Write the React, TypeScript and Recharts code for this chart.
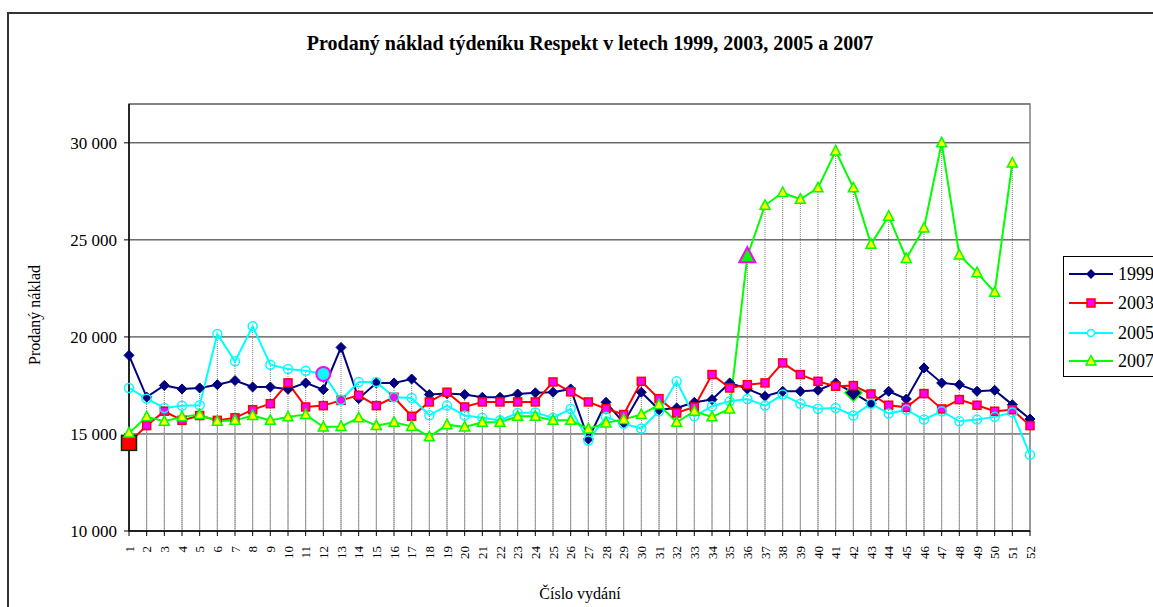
import React from "react";
import {
  LineChart,
  Line,
  XAxis,
  YAxis,
  CartesianGrid,
  ErrorBar,
  ReferenceArea,
} from "recharts";

const FONT = '"Liberation Serif", "Times New Roman", serif';

const issues = [
  1, 2, 3, 4, 5, 6, 7, 8, 9, 10, 11, 12, 13, 14, 15, 16, 17, 18, 19, 20, 21, 22, 23, 24, 25, 26,
  27, 28, 29, 30, 31, 32, 33, 34, 35, 36, 37, 38, 39, 40, 41, 42, 43, 44, 45, 46, 47, 48, 49, 50, 51, 52,
];

const y1999 = [
  19050, 16900, 17500, 17320, 17370, 17540, 17750, 17420, 17420, 17300, 17630, 17280, 19460,
  16820, 17630, 17630, 17830, 17030, 17080, 17030, 16890, 16890, 17060, 17120, 17150, 17320,
  14740, 16630, 15570, 17150, 16250, 16340, 16630, 16770, 17630, 17320, 16940, 17200, 17200,
  17250, 17630, 17120, 16560, 17200, 16800, 18400, 17630, 17540, 17200, 17250, 16510, 15770,
];

const y2003 = [
  14540, 15430, 16170, 15700, 15950, 15700, 15830, 16250, 16560, 17630, 16390, 16460, 16730,
  16990, 16460, 16890, 15910, 16650, 17150, 16390, 16650, 16650, 16650, 16650, 17680, 17170,
  16650, 16300, 16000, 17710, 16820, 16080, 16390, 18060, 17370, 17540, 17630, 18660, 18060,
  17710, 17460, 17490, 17060, 16480, 16370, 17080, 16290, 16770, 16480, 16170, 16250, 15430,
];

const y2005 = [
  17370, 16820, 16340, 16450, 16480, 20150, 18740, 20550, 18570, 18350, 18260, 18090, 16750,
  17680, 17680, 16890, 16850, 15960, 16460, 15950, 15830, 15700, 16080, 16110, 15830, 16290,
  14660, 15880, 15530, 15280, 16170, 17710, 15910, 16430, 16680, 16800, 16460, 17030, 16560,
  16300, 16340, 15950, 16560, 16050, 16250, 15740, 16170, 15650, 15740, 15880, 16110, 13930,
];

const y2007: (number | null)[] = [
  15050, 15880, 15650, 15880, 16000, 15650, 15700, 15950, 15700, 15880, 16000, 15360, 15390,
  15830, 15430, 15600, 15390, 14850, 15480, 15360, 15600, 15600, 15910, 15910, 15700, 15700,
  15260, 15570, 15750, 16000, 16510, 15600, 16170, 15880, 16290, 24160, 26780, 27440, 27090,
  27680, 29580, 27680, 24780, 26220, 24040, 25610, 30000, 24220, 23310, 22300, 28960, null,
];

const yTicks = [10000, 15000, 20000, 25000, 30000];
const yMin = 10000;
const yMax = 32000;

const data = issues.map((issue, i) => {
  const vals = [y1999[i], y2003[i], y2005[i], y2007[i]].filter(
    (v): v is number => v != null
  );
  return {
    issue,
    r1999: y1999[i],
    r2003: y2003[i],
    r2005: y2005[i],
    r2007: y2007[i],
    top: Math.max(...vals),
    low: Math.min(...vals),
  };
});

const fmt = (v: number) => String(v).replace(/\B(?=(\d{3})+(?!\d))/g, " ");

const diamondDot = (p: any) => {
  const { cx, cy, index } = p;
  if (cx == null || cy == null) return <g key={`a${index}`} />;
  const big = index === 41;
  const s = big ? 8.5 : 5;
  return (
    <path
      key={`a${index}`}
      d={`M${cx},${cy - s}L${cx + s},${cy}L${cx},${cy + s}L${cx - s},${cy}Z`}
      fill="#000080"
      stroke={big ? "#00ff00" : "#000080"}
      strokeWidth={big ? 1.5 : 1}
    />
  );
};

const squareDot = (p: any) => {
  const { cx, cy, index } = p;
  if (cx == null || cy == null) return <g key={`b${index}`} />;
  const big = index === 0;
  const h = big ? 7.5 : 4;
  return (
    <rect
      key={`b${index}`}
      x={cx - h}
      y={cy - h}
      width={h * 2}
      height={h * 2}
      fill={big ? "#ff0000" : "#ff00ff"}
      stroke={big ? "#003300" : "#ff0000"}
      strokeWidth={1.5}
    />
  );
};

const circleDot = (p: any) => {
  const { cx, cy, index } = p;
  if (cx == null || cy == null) return <g key={`c${index}`} />;
  const big = index === 11;
  return (
    <circle
      key={`c${index}`}
      cx={cx}
      cy={cy}
      r={big ? 7 : 4.5}
      fill={big ? "#00ffff" : "none"}
      stroke={big ? "#ff00ff" : "#00ffff"}
      strokeWidth={big ? 2 : 1.5}
    />
  );
};

const triangleDot = (p: any) => {
  const { cx, cy, index } = p;
  if (cx == null || cy == null) return <g key={`t${index}`} />;
  const big = index === 35;
  const w = big ? 8 : 5;
  const up = big ? 9 : 5.5;
  const down = big ? 6 : 4;
  return (
    <path
      key={`t${index}`}
      d={`M${cx},${cy - up}L${cx + w},${cy + down}L${cx - w},${cy + down}Z`}
      fill={big ? "#00ff00" : "#ffff00"}
      stroke={big ? "#ff00ff" : "#00ff00"}
      strokeWidth={big ? 2 : 1.5}
    />
  );
};

const IssueTick = (props: any) => {
  const { x, y, payload } = props;
  return (
    <g transform={`translate(${x},${y})`}>
      <text
        transform="rotate(-90)"
        textAnchor="end"
        dy="0.35em"
        fontSize={13}
        fontFamily={FONT}
        fill="#000"
      >
        {payload.value}
      </text>
    </g>
  );
};

const legendItems = [
  { name: "1999", color: "#000080", marker: "diamond" },
  { name: "2003", color: "#ff0000", marker: "square" },
  { name: "2005", color: "#00ffff", marker: "circle" },
  { name: "2007", color: "#00ff00", marker: "triangle" },
];

function LegendBox() {
  const rows = [17, 46, 76, 104];
  return (
    <div
      style={{
        position: "absolute",
        left: 1063,
        top: 256,
        width: 130,
        height: 121,
        border: "1px solid #000",
        background: "#fff",
        boxSizing: "border-box",
      }}
    >
      <svg width={130} height={119}>
        {legendItems.map((it, i) => {
          const y = rows[i];
          const cx = 27;
          return (
            <g key={it.name}>
              <line x1={5} x2={49} y1={y} y2={y} stroke={it.color} strokeWidth={2} />
              {it.marker === "diamond" && (
                <path d={`M${cx},${y - 5}L${cx + 5},${y}L${cx},${y + 5}L${cx - 5},${y}Z`} fill="#000080" />
              )}
              {it.marker === "square" && (
                <rect x={cx - 4} y={y - 4} width={8} height={8} fill="#ff00ff" stroke="#ff0000" strokeWidth={1.5} />
              )}
              {it.marker === "circle" && (
                <circle cx={cx} cy={y} r={3.5} fill="#fff" stroke="#00ffff" strokeWidth={1.5} />
              )}
              {it.marker === "triangle" && (
                <path d={`M${cx},${y - 5.5}L${cx + 5},${y + 4}L${cx - 5},${y + 4}Z`} fill="#ffff00" stroke="#00ff00" strokeWidth={1.5} />
              )}
              <text x={54} y={y} dy="0.35em" fontSize={18} fontFamily={FONT} fill="#000">
                {it.name}
              </text>
            </g>
          );
        })}
      </svg>
    </div>
  );
}

export default function App() {
  return (
    <div
      style={{
        position: "absolute",
        left: 0,
        top: 0,
        width: 1153,
        height: 607,
        overflow: "hidden",
        background: "#fff",
        fontFamily: FONT,
      }}
    >
      <div
        style={{
          position: "absolute",
          left: 7,
          top: 12,
          width: 1400,
          height: 900,
          border: "2px solid #333",
          boxSizing: "border-box",
        }}
      />
      <div
        style={{
          position: "absolute",
          left: 0,
          top: 32,
          width: 1180,
          textAlign: "center",
          fontWeight: "bold",
          fontSize: 20,
          whiteSpace: "nowrap",
        }}
      >
        Prodaný náklad týdeníku Respekt v letech 1999, 2003, 2005 a 2007
      </div>
      <div style={{ position: "absolute", left: 0, top: 0 }}>
        <LineChart
          width={1153}
          height={607}
          data={data}
          margin={{ top: 104, right: 123, bottom: 36, left: 69 }}
        >
          <ReferenceArea
            x1={1}
            x2={52}
            y1={yMin}
            y2={yMax}
            fill="none"
            stroke="#808080"
            strokeWidth={1.5}
            ifOverflow="visible"
          />
          <CartesianGrid vertical={false} stroke="#222" strokeWidth={1} />
          <XAxis
            dataKey="issue"
            interval={0}
            tick={<IssueTick />}
            tickSize={5}
            tickMargin={10}
            height={40}
            axisLine={{ stroke: "#000", strokeWidth: 1.5 }}
            tickLine={{ stroke: "#000" }}
          />
          <YAxis
            domain={[yMin, yMax]}
            ticks={yTicks}
            allowDataOverflow
            width={60}
            tickFormatter={fmt}
            tickSize={5}
            tickMargin={7}
            axisLine={{ stroke: "#000", strokeWidth: 1.5 }}
            tickLine={{ stroke: "#000" }}
            tick={{ fill: "#000", fontSize: 17, fontFamily: FONT }}
          />
          <Line
            dataKey="top"
            stroke="none"
            dot={false}
            activeDot={false}
            legendType="none"
            isAnimationActive={false}
          >
            <ErrorBar
              dataKey={(d: any) => [d.top - yMin, 0]}
              width={0}
              stroke="#808080"
              strokeWidth={1}
              strokeDasharray="1 1"
            />
          </Line>
          <Line
            dataKey="low"
            stroke="none"
            dot={false}
            activeDot={false}
            legendType="none"
            isAnimationActive={false}
          >
            <ErrorBar
              dataKey={(d: any) => [d.low - yMin, 0]}
              width={0}
              stroke="#9a9a9a"
              strokeWidth={1}
            />
          </Line>
          <Line
            dataKey="r1999"
            stroke="#000080"
            strokeWidth={2}
            dot={diamondDot}
            activeDot={false}
            isAnimationActive={false}
          />
          <Line
            dataKey="r2003"
            stroke="#ff0000"
            strokeWidth={2}
            dot={squareDot}
            activeDot={false}
            isAnimationActive={false}
          />
          <Line
            dataKey="r2005"
            stroke="#00ffff"
            strokeWidth={2}
            dot={circleDot}
            activeDot={false}
            isAnimationActive={false}
          />
          <Line
            dataKey="r2007"
            stroke="#00ff00"
            strokeWidth={2}
            dot={triangleDot}
            activeDot={false}
            isAnimationActive={false}
          />
        </LineChart>
      </div>
      <div
        style={{
          position: "absolute",
          left: 35,
          top: 315,
          transform: "translate(-50%, -50%) rotate(-90deg)",
          whiteSpace: "nowrap",
          fontSize: 16,
        }}
      >
        Prodaný náklad
      </div>
      <div
        style={{
          position: "absolute",
          left: 580,
          top: 594,
          transform: "translate(-50%, -50%)",
          whiteSpace: "nowrap",
          fontSize: 16,
        }}
      >
        Číslo vydání
      </div>
      <LegendBox />
    </div>
  );
}
